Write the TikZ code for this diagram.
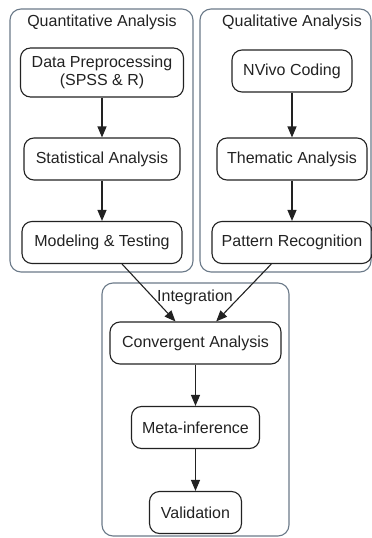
\documentclass[tikz,border=0pt]{standalone}
\usepackage{fontspec}
\setmainfont{Liberation Sans}
\usetikzlibrary{arrows.meta,positioning}

\definecolor{frame}{HTML}{6B7A89}
\definecolor{ink}{HTML}{222222}

\tikzset{
	stepbox/.style={draw=ink, rounded corners=10pt, align=center, text=ink,
		minimum height=42pt, inner xsep=0pt, line width=1.1pt,
		font=\fontsize{16}{18.5}\selectfont},
	groupbox/.style={draw=frame, rounded corners=11pt, line width=1.1pt},
	grouplabel/.style={text=ink, inner sep=0pt, font=\fontsize{16}{18.5}\selectfont},
	flow/.style={draw=ink, line width=1.1pt, -{Triangle[length=11pt,width=9pt]}}
}

\begin{document}
\begin{tikzpicture}[x=1pt, y=-1pt]
	\useasboundingbox (0, 0) rectangle (372, 538);

	% grupos
	\draw[groupbox] (10, 9) rectangle (193, 272);
	\draw[groupbox] (200, 9) rectangle (371, 272);
	\draw[groupbox] (102, 283) rectangle (289, 536);
	\node[grouplabel] (lquant) at (102, 22) {Quantitative Analysis};
	\node[grouplabel] (lqual) at (292, 22) {Qualitative Analysis};
	\node[grouplabel] (linteg) at (195, 297) {Integration};

	% cuantitativo
	\node[stepbox, minimum width=163pt, minimum height=49pt] (prep) at (102, 72.5)
		{Data Preprocessing\\(SPSS \& R)};
	\node[stepbox, minimum width=156pt] (stat) at (102, 159) {Statistical Analysis};
	\node[stepbox, minimum width=160pt] (model) at (102, 242.5) {Modeling \& Testing};

	% cualitativo
	\node[stepbox, minimum width=120pt] (nvivo) at (292, 71) {NVivo Coding};
	\node[stepbox, minimum width=150pt] (theme) at (292, 159) {Thematic Analysis};
	\node[stepbox, minimum width=160pt] (pattern) at (292, 242.5) {Pattern Recognition};

	% integracion
	\node[stepbox, minimum width=171pt] (conv) at (195.5, 343) {Convergent Analysis};
	\node[stepbox, minimum width=128pt] (meta) at (195.5, 427.5) {Meta-inference};
	\node[stepbox, minimum width=92pt] (valid) at (195.5, 512.5) {Validation};

	\draw[flow] (prep) -- (stat);
	\draw[flow] (stat) -- (model);
	\draw[flow] (nvivo) -- (theme);
	\draw[flow] (theme) -- (pattern);
	\draw[flow] (model) -- (conv);
	\draw[flow] (pattern) -- (conv);
	\draw[flow] (conv) -- (meta);
	\draw[flow] (meta) -- (valid);
\end{tikzpicture}
\end{document}
